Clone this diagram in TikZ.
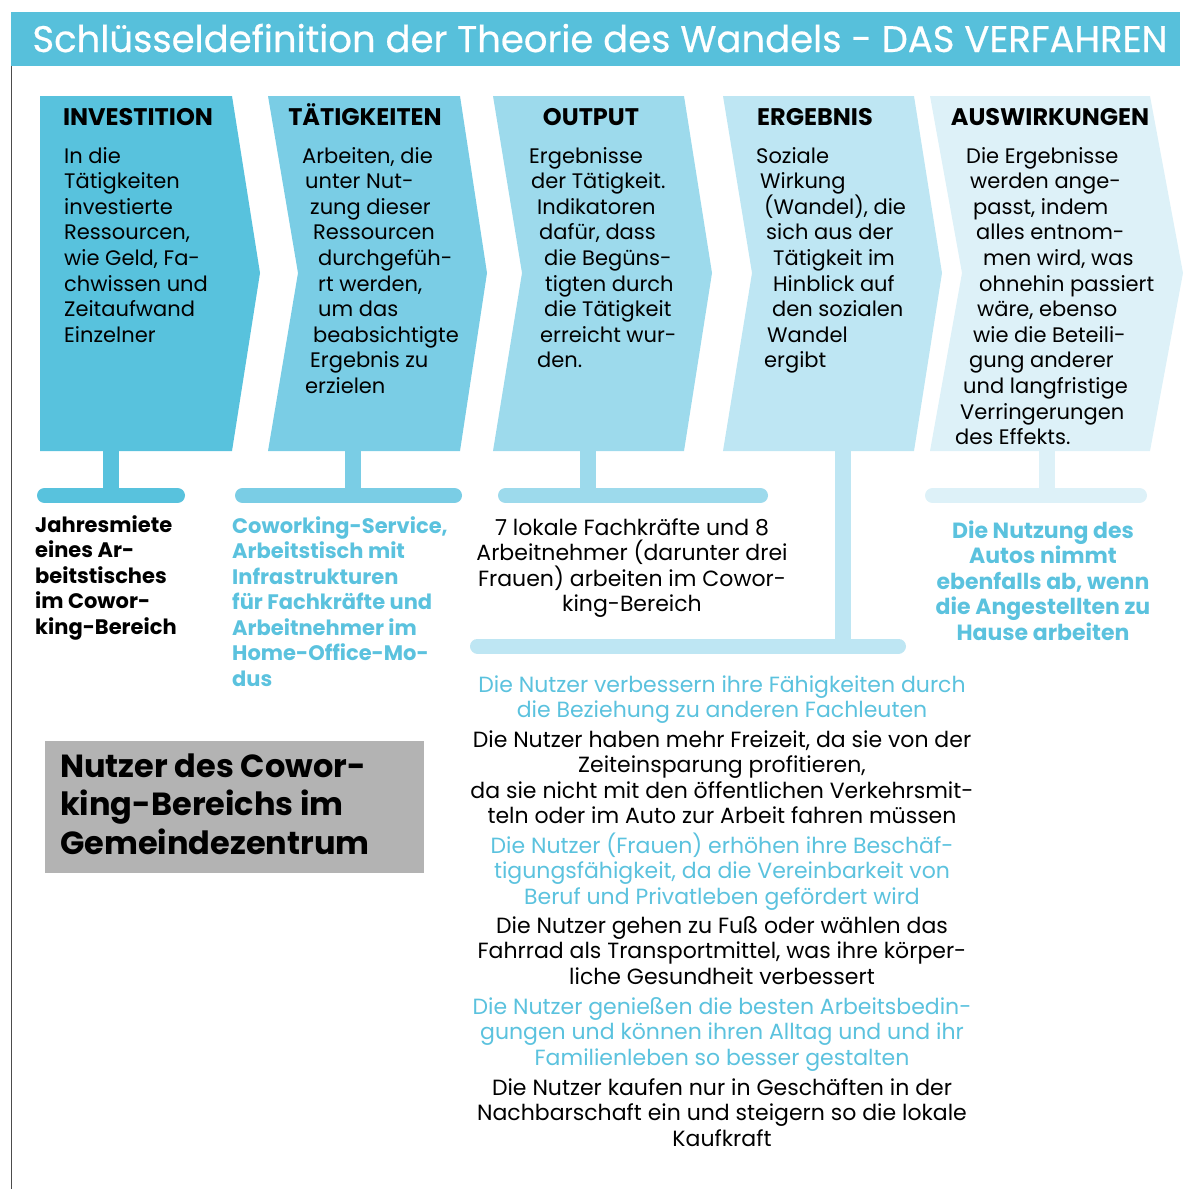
\documentclass[tikz,border=0pt]{standalone}
\usepackage{fontspec}
\setmainfont{Poppins}
\newfontfamily\titlefont{Poppins}[FakeBold=0.5]
\usetikzlibrary{positioning}
\definecolor{tocbar}{HTML}{57C0DB}
\definecolor{tocone}{HTML}{58C2DD}
\definecolor{toctwo}{HTML}{7ACDE5}
\definecolor{tocthree}{HTML}{9DDAEC}
\definecolor{tocfour}{HTML}{BEE6F3}
\definecolor{tocfive}{HTML}{DDF1F8}
\definecolor{toccyan}{HTML}{5BC2DE}
\definecolor{tocgray}{HTML}{B3B3B3}

\begin{document}
\begin{tikzpicture}[x=1pt,y=-1pt,
  head/.style={anchor=base,inner sep=0pt,font=\bfseries\fontsize{24}{28}\selectfont},
  body/.style={anchor=base west,align=left,inner sep=0pt,font=\fontsize{21}{25.6}\selectfont},
  note/.style={anchor=base,align=center,inner sep=0pt,font=\fontsize{22}{25.5}\selectfont},
  bnote/.style={anchor=base west,align=left,inner sep=0pt,font=\bfseries\fontsize{21}{25.5}\selectfont},
  stem/.style={line width=16pt},
  bar/.style={line width=15pt,line cap=round}]
  \useasboundingbox (0,0) rectangle (1189,1189);
  % title band and frame line
  \draw[gray!60!black,line width=1pt] (11.5,60) -- (11.5,1189);
  \fill[tocbar] (11,12) rectangle (1180,66);
  \node[anchor=base,inner sep=0pt,text=white,font=\titlefont\fontsize{37}{42}\selectfont] (title) at (600,52)
    {Schlüsseldefinition der Theorie des Wandels - DAS VERFAHREN};
  % chevrons
  \fill[tocone] (40,96) -- (232,96) -- (260,273) -- (232,451) -- (40,451) -- cycle;
  \fill[toctwo] (268,96) -- (460,96) -- (487,273) -- (460,451) -- (268,451) -- (298,273) -- cycle;
  \fill[tocthree] (493,96) -- (684,96) -- (712,273) -- (684,451) -- (493,451) -- (522,273) -- cycle;
  \fill[tocfour] (723,96) -- (914,96) -- (942,273) -- (914,451) -- (723,451) -- (752,273) -- cycle;
  \fill[tocfive] (930,96) -- (1150,96) -- (1183,273) -- (1150,451) -- (930,451) -- (962,273) -- cycle;
  \node[head] (h1) at (138,125) {INVESTITION};
  \node[head] (h2) at (365,125) {TÄTIGKEITEN};
  \node[head] (h3) at (591,125) {OUTPUT};
  \node[head] (h4) at (815,125) {ERGEBNIS};
  \node[head] (h5) at (1050,125) {AUSWIRKUNGEN};
  % base anchor sits on the last line
  \node[body] (t1) at (64,342.2) {In die\\Tätigkeiten\\investierte\\Ressourcen,\\wie Geld, Fa-\\chwissen und\\Zeitaufwand\\Einzelner};
  \node[body] (t2) at (302,393.4) {Arbeiten, die\\\hspace*{3pt}unter Nut-\\\hspace*{8pt}zung dieser\\
    \hspace*{11pt}Ressourcen\\\hspace*{16pt}durchgefüh-\\\hspace*{16pt}rt werden,\\\hspace*{16pt}um das\\
    \hspace*{11pt}beabsichtigte\\\hspace*{8pt}Ergebnis zu\\\hspace*{3pt}erzielen};
  \node[body] (t3) at (529,367.8) {Ergebnisse\\\hspace*{2pt}der Tätigkeit.\\\hspace*{8pt}Indikatoren\\
    \hspace*{10pt}dafür, dass\\\hspace*{15pt}die Begüns-\\\hspace*{16pt}tigten durch\\\hspace*{15pt}die Tätigkeit\\
    \hspace*{11pt}erreicht wur-\\\hspace*{8pt}den.};
  \node[body] (t4) at (756,367.8) {Soziale\\\hspace*{4pt}Wirkung\\\hspace*{8pt}(Wandel), die\\\hspace*{10pt}sich aus der\\
    \hspace*{17pt}Tätigkeit im\\\hspace*{17pt}Hinblick auf\\\hspace*{16pt}den sozialen\\\hspace*{11pt}Wandel\\
    \hspace*{8pt}ergibt};
  \node[body] (t5) at (955,444.6) {\hspace*{11pt}Die Ergebnisse\\\hspace*{15pt}werden ange-\\\hspace*{18pt}passt, indem\\
    \hspace*{21pt}alles entnom-\\\hspace*{28pt}men wird, was\\\hspace*{24pt}ohnehin passiert\\\hspace*{22pt}wäre, ebenso\\
    \hspace*{18pt}wie die Beteili-\\\hspace*{14pt}gung anderer\\\hspace*{8pt}und langfristige\\
    \hspace*{5pt}Verringerungen\\des Effekts.};
  % stems and bars
  \coordinate (s1) at (111,445);
  \coordinate (s2) at (353,445);
  \coordinate (s3) at (588,445);
  \coordinate (s4) at (842.5,445);
  \coordinate (s5) at (1046.5,445);
  \draw[stem,tocone] (s1) -- ++(0,50);
  \draw[stem,toctwo] (s2) -- ++(0,50);
  \draw[stem,tocthree] (s3) -- ++(0,50);
  \draw[stem,tocfour] (s4) -- ++(0,200);
  \draw[stem,tocfive] (s5) -- ++(0,50);
  \draw[bar,tocone] (44.5,495.5) -- (177.5,495.5);
  \draw[bar,toctwo] (242.5,495.5) -- (454.5,495.5);
  \draw[bar,tocthree] (505.5,495.5) -- (760.5,495.5);
  \draw[bar,tocfive] (932.5,495.5) -- (1139.5,495.5);
  \draw[bar,tocfour] (477.5,646) -- (898.5,646);
  % notes under the bars
  \node[bnote] (n1) at (35,634) {Jahresmiete\\eines Ar-\\beitstisches\\im Cowor-\\king-Bereich};
  \node[bnote,text=toccyan] (n2) at (232,686) {Coworking-Service,\\Arbeitstisch mit\\Infrastrukturen\\für Fachkräfte und\\Arbeitnehmer im\\Home-Office-Mo-\\dus};
  \node[note] (n3) at (632,611.5) {7 lokale Fachkräfte und 8\\Arbeitnehmer (darunter drei\\Frauen) arbeiten im Cowor-\\king-Bereich};
  \node[note,font=\bfseries\fontsize{22}{25.5}\selectfont,text=toccyan] (n5) at (1043,640) {Die Nutzung des\\Autos nimmt\\ebenfalls ab, wenn\\die Angestellten zu\\Hause arbeiten};
  % results of the users
  \node[note,text=toccyan] (r1) at (722,717.5) {Die Nutzer verbessern ihre Fähigkeiten durch\\die Beziehung zu anderen Fachleuten};
  \node[note] (r2) at (722,823.5) {Die Nutzer haben mehr Freizeit, da sie von der\\Zeiteinsparung profitieren,\\da sie nicht mit den öffentlichen Verkehrsmit-\\teln oder im Auto zur Arbeit fahren müssen};
  \node[note,text=toccyan] (r3) at (722,904) {Die Nutzer (Frauen) erhöhen ihre Beschäf-\\tigungsfähigkeit, da die Vereinbarkeit von\\Beruf und Privatleben gefördert wird};
  \node[note] (r4) at (722,984) {Die Nutzer gehen zu Fuß oder wählen das\\Fahrrad als Transportmittel, was ihre körper-\\liche Gesundheit verbessert};
  \node[note,text=toccyan] (r5) at (722,1065) {Die Nutzer genießen die besten Arbeitsbedin-\\gungen und können ihren Alltag und und ihr\\Familienleben so besser gestalten};
  \node[note] (r6) at (722,1146) {Die Nutzer kaufen nur in Geschäften in der\\Nachbarschaft ein und steigern so die lokale\\Kaufkraft};
  % user group box
  \fill[tocgray] (45,741) rectangle (424,873);
  \node[anchor=base west,align=left,inner sep=0pt,font=\bfseries\fontsize{32}{38.5}\selectfont] (users) at (60,854)
    {Nutzer des Cowor-\\king-Bereichs im\\Gemeindezentrum};
\end{tikzpicture}
\end{document}
